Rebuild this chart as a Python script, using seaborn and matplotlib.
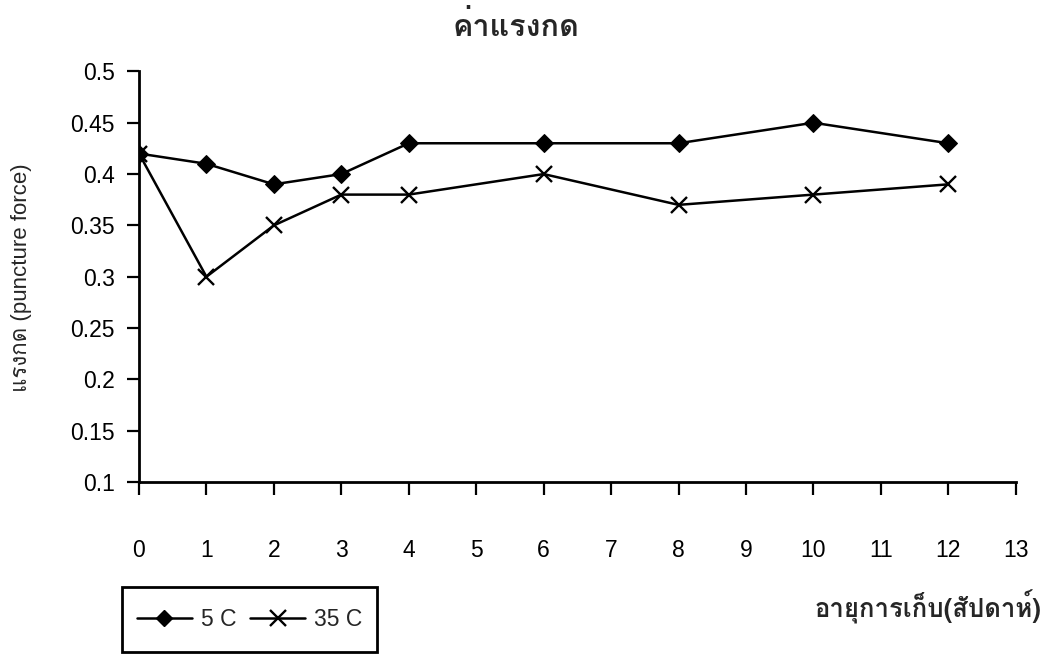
import numpy as np
import pandas as pd
import matplotlib
matplotlib.use("Agg")
import matplotlib.pyplot as plt
from matplotlib import font_manager
from matplotlib.ft2font import FT2Font
from matplotlib.lines import Line2D
from matplotlib.patches import Rectangle
import seaborn as sns

weeks = [0, 1, 2, 3, 4, 6, 8, 10, 12]
force_5c = [0.42, 0.41, 0.39, 0.40, 0.43, 0.43, 0.43, 0.45, 0.43]
force_35c = [0.42, 0.30, 0.35, 0.38, 0.38, 0.40, 0.37, 0.38, 0.39]
series_names = ["5 C", "35 C"]
x_ticks = list(range(0, 14))
y_ticks = [0.1, 0.15, 0.2, 0.25, 0.3, 0.35, 0.4, 0.45, 0.5]
y_tick_labels = ["0.1", "0.15", "0.2", "0.25", "0.3", "0.35", "0.4", "0.45", "0.5"]
title_text = "ค่าแรงกด"
y_label = "แรงกด (puncture force)"
x_label = "อายุการเก็บ(สัปดาห์)"

df5 = pd.DataFrame({"week": weeks, "force": force_5c})
df35 = pd.DataFrame({"week": weeks, "force": force_35c})

sns.set_theme(style="white")

# find a font that has Thai glyphs
thai_fonts = []
for fe in font_manager.fontManager.ttflist:
    try:
        cm = FT2Font(fe.fname).get_charmap()
        if 0x0E04 in cm and fe.name not in thai_fonts:
            thai_fonts.append(fe.name)
    except Exception:
        pass
thai_first = [f for f in thai_fonts if "Loopless" not in f][:1]
latin = ["Liberation Sans", "DejaVu Sans"]
plt.rcParams["font.family"] = latin
thai_family = thai_first + latin
mixed_family = ["Liberation Sans"] + thai_first + ["DejaVu Sans"]

fig = plt.figure(figsize=(10.45, 6.55), dpi=100)
ax = fig.add_axes([0.133, 0.264, 0.839, 0.627])

sns.lineplot(data=df5, x="week", y="force", color="black", marker="D",
             markersize=9, markeredgecolor="black", linewidth=1.8, ax=ax)
sns.lineplot(data=df35, x="week", y="force", color="black", marker="x",
             markersize=11.5, markeredgewidth=1.7, markeredgecolor="black", linewidth=1.8, ax=ax)

ax.set_xlim(0, 13)
ax.set_ylim(0.1, 0.5)
ax.set_xticks(x_ticks)
ax.set_yticks(y_ticks)
ax.set_yticklabels(y_tick_labels)
for s in ["top", "right"]:
    ax.spines[s].set_visible(False)
for s in ["left", "bottom"]:
    ax.spines[s].set_color("black")
    ax.spines[s].set_linewidth(2.0)
ax.tick_params(axis="x", bottom=True, direction="out", length=9, width=1.6, pad=32,
               labelsize=16.5, colors="black")
ax.tick_params(axis="y", left=True, direction="out", length=9, width=1.6, pad=8.5,
               labelsize=16.5, colors="black")
ax.set_xlabel("")
ax.set_ylabel("")
ax.grid(False)

fig.text(0.494, 0.960, title_text, ha="center", va="center", fontsize=22,
         fontweight="bold", family=thai_family)
fig.text(0.021, 0.576, y_label, ha="center", va="center", rotation=90, fontsize=16,
         family=mixed_family)
fig.text(0.997, 0.073, x_label, ha="right", va="center", fontsize=18.5,
         fontweight="bold", family=thai_family)

handles = [
    Line2D([], [], color="black", marker="D", markersize=8, linewidth=1.8),
    Line2D([], [], color="black", marker="x", markersize=11, markeredgewidth=1.7, linewidth=1.8),
]
leg = fig.legend(handles, series_names, loc="center", bbox_to_anchor=(0.2388, 0.0542),
                 ncol=2, frameon=False, fontsize=16.5,
                 handlelength=2.4, handletextpad=0.4, columnspacing=0.6)
fig.patches.append(Rectangle((0.1167, 0.0046), 0.244, 0.0992, transform=fig.transFigure,
                             fill=False, edgecolor="black", linewidth=2.0, figure=fig))

fig.savefig("out.png", dpi=100, facecolor="white")
